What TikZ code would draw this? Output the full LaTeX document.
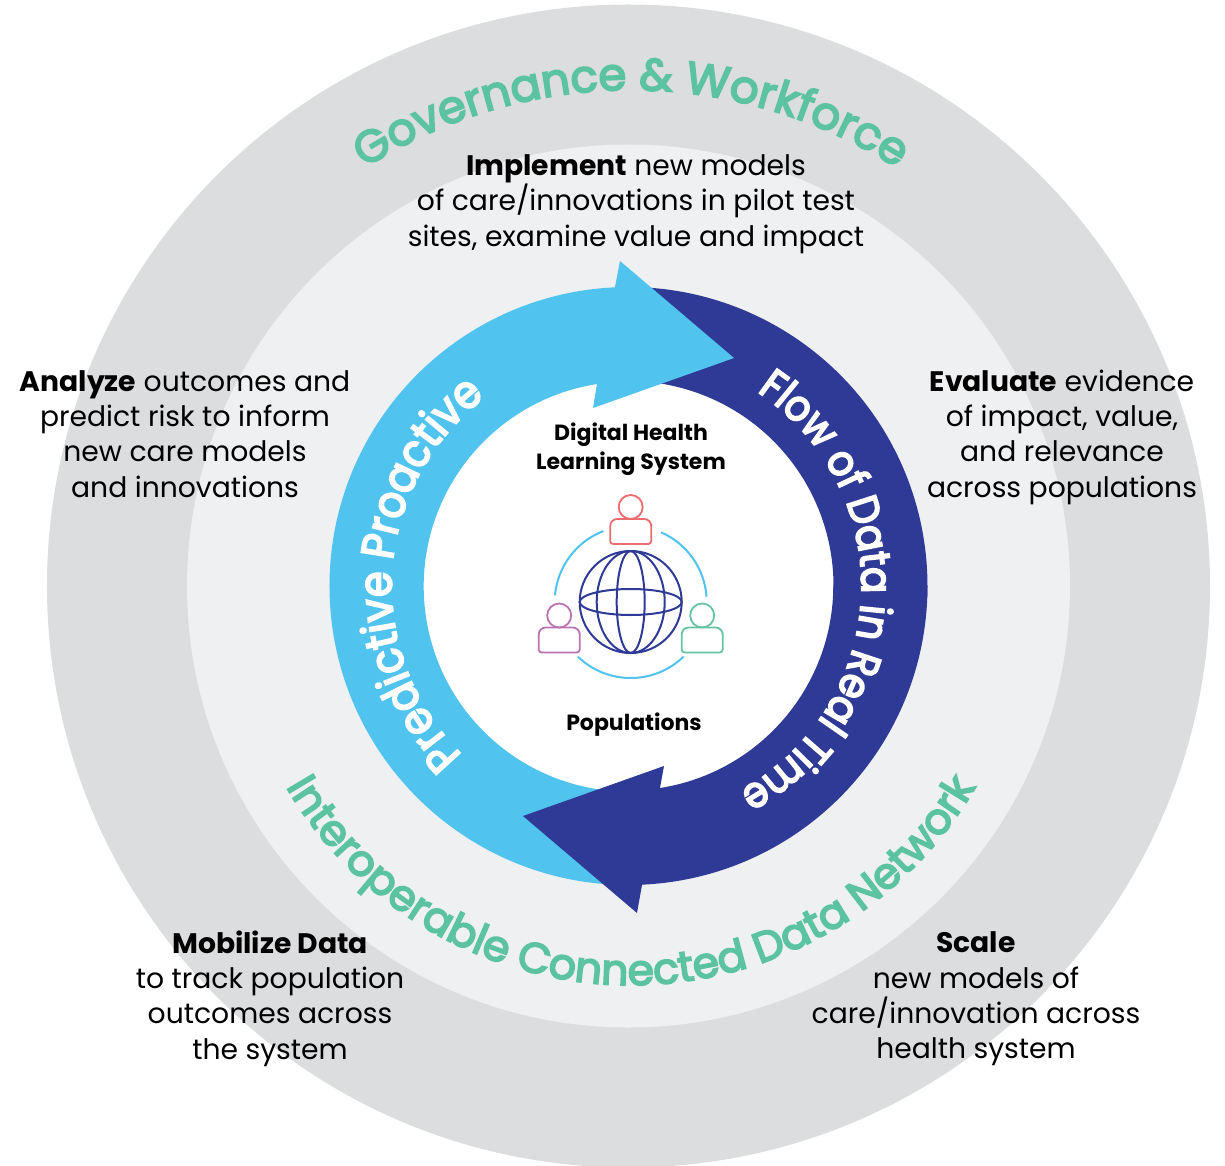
\documentclass[tikz,border=0pt]{standalone}
\usepackage{fontspec}
\setmainfont{Poppins}
\newfontfamily\arcfont[FakeBold=4]{Poppins}
\newfontfamily\ringfont[FakeBold=4,FakeStretch=0.9]{Poppins}
\usetikzlibrary{decorations.text}
\definecolor{ringgrey}{HTML}{DCDDDF}
\definecolor{midgrey}{HTML}{EFF0F2}
\definecolor{lightflow}{HTML}{50C3EF}
\definecolor{darkflow}{HTML}{2F3A96}
\definecolor{tealtext}{HTML}{5CC3A0}
\definecolor{redperson}{HTML}{EE6C6F}
\definecolor{purpleperson}{HTML}{BB74B2}
\definecolor{greenperson}{HTML}{66C4A4}
\begin{document}
\begin{tikzpicture}[x=1pt,y=1pt,
  bodytext/.style={align=center,font=\fontsize{28.2}{35.3}\selectfont},
  hubtext/.style={align=center,font=\fontsize{22}{29}\selectfont\bfseries},
  person/.pic={\draw[line width=1.8pt] (0,12) circle (12);
    \draw[line width=1.8pt,rounded corners=7pt] (-20.5,-12) -- (-20.5,0) -- (20.5,0) -- (20.5,-12) [rounded corners=3pt] -- (20.5,-25) -- (-20.5,-25) -- cycle;}]
\useasboundingbox (-628.5,-579) rectangle (596.5,586);
\fill[ringgrey] (0,0) circle (581.5);
\fill[midgrey] (0,0) circle (441.5);
\fill[white] (0,0) circle (210);
% right half of the dark ring, then the light arrow over it
\fill[darkflow] (90:299) arc[start angle=90,end angle=-2,radius=299] -- (-2:205) arc[start angle=-2,end angle=90,radius=205] -- cycle;
\fill[lightflow] (270:299) arc[start angle=270,end angle=92.6,radius=299] -- (-8.5,325) -- (105.5,228) -- (-35.5,178) -- (-31.5,202) arc[start angle=98.9,end angle=270,radius=205] -- cycle;
\fill[darkflow] (0:299) arc[start angle=0,end angle=-87.4,radius=299] -- (8.5,-327) -- (-105.5,-230) -- (35.5,-180) -- (31.5,-202) arc[start angle=-81.1,end angle=0,radius=205] -- cycle;
% text on the arcs
\path[decorate,decoration={text along path,text align=center,text color=tealtext,
  text={|\arcfont\fontsize{45}{45}\selectfont|Governance {\&} Workforce}}]
  (2.5,5) ++(130:491) arc[start angle=130,end angle=50,radius=491];
\path[decorate,decoration={text along path,text align=center,text color=tealtext,
  text={|\arcfont\fontsize{42.5}{44}\selectfont|Interoperable Connected Data Network}}]
  (2.5,0) ++(200:399) arc[start angle=200,end angle=340,radius=399];
\path[decorate,decoration={text along path,text align=center,text color=white,
  text={|\ringfont\fontsize{43}{44}\selectfont|Flow of Data in Real Time}}]
  (59:233) arc[start angle=59,end angle=-64,radius=233];
\path[decorate,decoration={text along path,text align=center,text color=white,
  text={|\ringfont\fontsize{46}{46}\selectfont|Predictive Proactive}}]
  (246.3:237) arc[start angle=246.3,end angle=106.3,radius=237];
% text blocks
\node[bodytext] (implement) at (7.5,382) {\textbf{Implement} new models\\of care/innovations in pilot test\\sites, examine value and impact};
\node[bodytext] (analyze) at (-443.5,152) {\textbf{Analyze} outcomes and\\predict risk to inform\\new care models\\and innovations};
\node[bodytext] (evaluate) at (433.5,149) {\textbf{Evaluate} evidence\\of impact, value,\\and relevance\\across populations};
\node[bodytext] (mobilize) at (-358.5,-412.5) {\textbf{Mobilize Data}\\to track population\\outcomes across\\the system};
\node[bodytext] (scale) at (347.5,-413) {\textbf{Scale}\\new models of\\care/innovation across\\health system};
\node[hubtext] (hub) at (2.5,136.5) {Digital Health\\Learning System};
\node[hubtext] (populations) at (5.5,-139) {Populations};
% globe and people
\begin{scope}[shift={(2.2,-16)},darkflow,line width=2pt]
\draw (0,0) circle (51);
\draw (0,0) ellipse (51 and 13);
\draw (0,0) ellipse (34 and 51);
\draw (0,0) ellipse (14 and 51);
\draw[lightflow] (175:76) arc[start angle=175,end angle=111,radius=76];
\draw[lightflow] (66.5:76) arc[start angle=66.5,end angle=4,radius=76];
\draw[lightflow] (226:76) arc[start angle=226,end angle=314,radius=76];
\pic[redperson] at (0,83) {person};
\pic[purpleperson] at (-71.5,-25.5) {person};
\pic[greenperson] at (71.5,-25.5) {person};
\end{scope}
\end{tikzpicture}
\end{document}
